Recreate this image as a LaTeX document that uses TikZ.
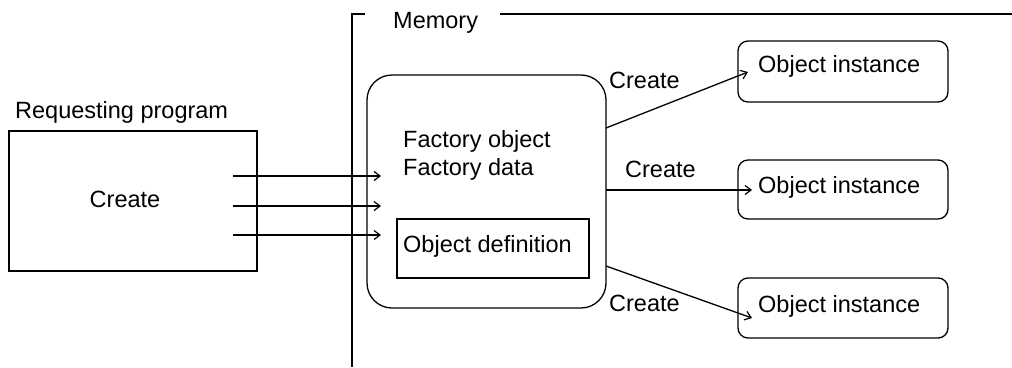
\documentclass[tikz,border=0pt]{standalone}
\usepackage{fontspec}
\setmainfont{Liberation Sans}
\usetikzlibrary{arrows.meta}
\begin{document}
\begin{tikzpicture}[x=1pt,y=-1pt,
  every node/.style={font=\fontsize{23.5}{28}\selectfont},
  txt/.style={inner sep=0pt,anchor=base west},
  boxline/.style={draw,line width=1.3pt},
  conn/.style={line width=1.3pt,-{Straight Barb[length=6pt,width=9pt,line width=1.2pt]}},
  plain/.style={line width=1.3pt}]
\useasboundingbox (0,0) rectangle (1012,367);
% requesting program
\node[boxline,minimum width=248pt,minimum height=140pt,inner sep=0pt] (req) at (133,201) {};
\node[txt] (reqlbl) at (15,118) {Requesting program};
\node[inner sep=0pt,anchor=base] (reqc) at (125,207) {Create};
% memory frame
\node[txt] (mem) at (393,28) {Memory};
\coordinate (mb) at (352,367);
\coordinate (mt) at (352,14);
\coordinate (mt2) at (365,14);
\coordinate (mr1) at (500,14);
\coordinate (mr2) at (1012,14);
\draw[plain] (mb) -- (mt) -- (mt2);
\draw[plain] (mr1) -- (mr2);
% factory object
\node[boxline,rounded corners=25pt,minimum width=239pt,minimum height=233pt,inner sep=0pt] (fac) at (486.5,191.5) {};
\node[txt] (fo) at (403,147) {Factory object};
\node[txt] (fd) at (403,175) {Factory data};
\node[boxline,minimum width=192pt,minimum height=59pt,inner sep=0pt] (def) at (493,248.5) {};
\node[txt] (deft) at (403,252) {Object definition};
% instances
\node[boxline,rounded corners=10pt,minimum width=210pt,minimum height=61pt,inner sep=0pt] (i1) at (843,71.5) {};
\node[boxline,rounded corners=10pt,minimum width=210pt,minimum height=59pt,inner sep=0pt] (i2) at (843,189.5) {};
\node[boxline,rounded corners=10pt,minimum width=210pt,minimum height=60pt,inner sep=0pt] (i3) at (843,308) {};
\node[txt] (i1t) at (758,72) {Object instance};
\node[txt] (i2t) at (758,193) {Object instance};
\node[txt] (i3t) at (758,312) {Object instance};
% input arrows
\coordinate (a1s) at (233,176);
\coordinate (a2s) at (233,206);
\coordinate (a3s) at (233,235);
\coordinate (a1e) at (381,176);
\coordinate (a2e) at (381,206);
\coordinate (a3e) at (381,235);
\draw[conn] (a1s) -- (a1e);
\draw[conn] (a2s) -- (a2e);
\draw[conn] (a3s) -- (a3e);
% output arrows
\coordinate (o1s) at (606,128);
\coordinate (o2s) at (606,190);
\coordinate (o3s) at (606,266);
\coordinate (o1e) at (748,72);
\coordinate (o2e) at (752,190);
\coordinate (o3e) at (752,318);
\draw[conn] (o1s) -- (o1e);
\draw[conn] (o2s) -- (o2e);
\draw[conn] (o3s) -- (o3e);
\node[txt] (c1) at (609,88) {Create};
\node[txt] (c2) at (625,177) {Create};
\node[txt] (c3) at (609,311) {Create};
\end{tikzpicture}
\end{document}
